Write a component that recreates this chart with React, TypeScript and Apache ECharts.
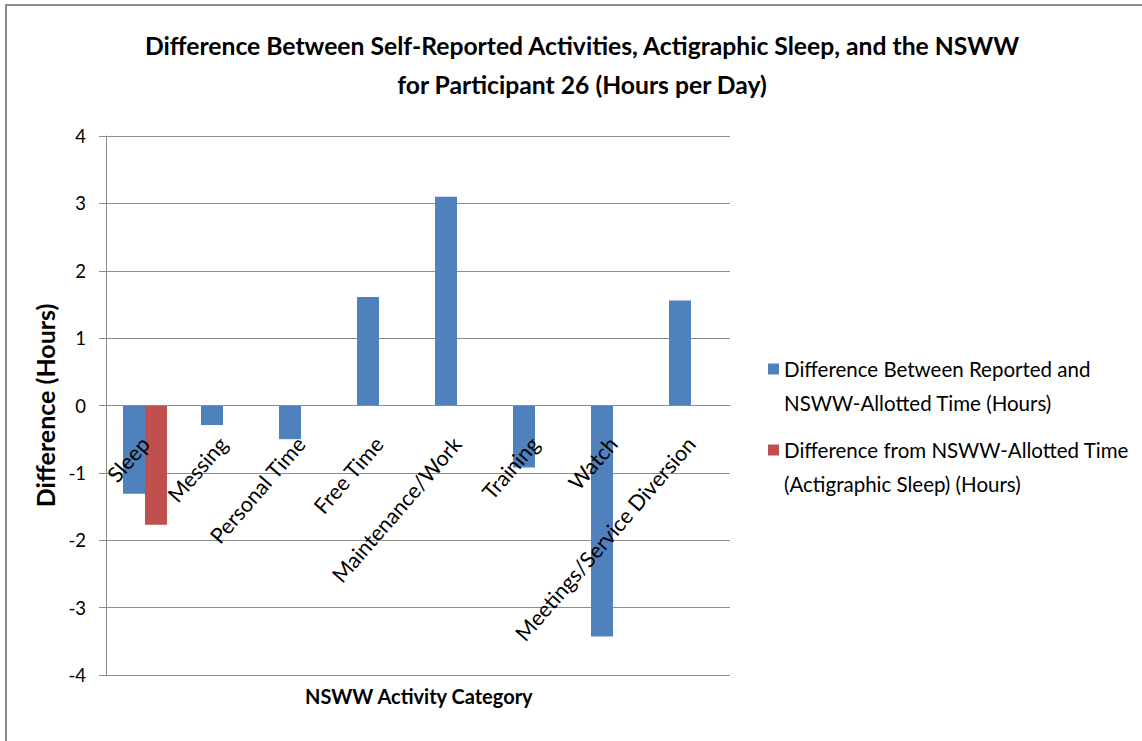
import React, { useEffect, useRef } from "react";
import * as echarts from "echarts";

const categories = [
  "Sleep",
  "Messing",
  "Personal Time",
  "Free Time",
  "Maintenance/Work",
  "Training",
  "Watch",
  "Meetings/Service Diversion",
];
const reportedDiff = [-1.31, -0.29, -0.5, 1.61, 3.1, -0.92, -3.43, 1.56];
const actigraphicDiff = [-1.77, null, null, null, null, null, null, null];
const seriesNames = [
  "Difference Between Reported and NSWW-Allotted Time (Hours)",
  "Difference from NSWW-Allotted Time (Actigraphic Sleep) (Hours)",
];
const legendLines: Record<string, string> = {
  [seriesNames[0]]: "\nDifference Between Reported and\nNSWW-Allotted Time (Hours)",
  [seriesNames[1]]: "\nDifference from NSWW-Allotted Time\n(Actigraphic Sleep) (Hours)",
};
const titleText =
  "Difference Between Self-Reported Activities, Actigraphic Sleep, and the NSWW\nfor Participant 26 (Hours per Day)";
const yAxisName = "Difference (Hours)";
const xAxisName = "NSWW Activity Category";

const FONT = "Lato, 'Open Sans', sans-serif";

export default function App() {
  const ref = useRef<HTMLDivElement>(null);
  useEffect(() => {
    if (!ref.current) return;
    const chart = echarts.init(ref.current, undefined, { renderer: "svg" });
    chart.setOption({
      animation: false,
      backgroundColor: "#ffffff",
      textStyle: { fontFamily: FONT },
      title: {
        text: titleText,
        left: 577,
        textAlign: "center",
        top: 21,
        textStyle: {
          fontFamily: FONT,
          fontSize: 24.7,
          fontWeight: "bold",
          color: "#000",
          lineHeight: 39,
        },
      },
      legend: {
        orient: "vertical",
        left: 763,
        top: 313,
        itemWidth: 11,
        itemHeight: 11,
        itemGap: -21,
        icon: "rect",
        formatter: (name: string) => legendLines[name] || name,
        textStyle: {
          fontFamily: FONT,
          fontSize: 20.5,
          color: "#000",
          lineHeight: 34,
        },
        data: seriesNames,
      },
      grid: { left: 106, right: 412, top: 136, bottom: 66, outerBoundsMode: "none" },
      xAxis: {
        type: "category",
        data: categories,
        z: 10,
        axisLine: { show: true, onZero: true, lineStyle: { color: "#8c8c8c", width: 1 } },
        axisTick: { show: false },
        axisLabel: {
          interval: 0,
          rotate: 49,
          margin: -235,
          padding: [40, 0, 0, 0],
          fontSize: 21.5,
          color: "#000",
          fontFamily: FONT,
        },
      },
      yAxis: {
        type: "value",
        min: -4,
        max: 4,
        interval: 1,
        name: yAxisName,
        nameLocation: "middle",
        nameGap: 46,
        nameTextStyle: { fontFamily: FONT, fontSize: 25, fontWeight: "bold", color: "#000" },
        axisLine: { show: true, lineStyle: { color: "#8c8c8c", width: 1 } },
        axisTick: { show: true, length: 7, lineStyle: { color: "#8c8c8c" } },
        axisLabel: { fontSize: 18.5, color: "#000", margin: 20, fontFamily: FONT },
        splitLine: { show: true, lineStyle: { color: "#8c8c8c", width: 1 } },
      },
      series: [
        {
          name: seriesNames[0],
          type: "bar",
          data: reportedDiff,
          barWidth: 22,
          barGap: "0%",
          itemStyle: { color: "#4F81BD" },
        },
        {
          name: seriesNames[1],
          type: "bar",
          data: actigraphicDiff,
          barWidth: 22,
          barGap: "0%",
          itemStyle: { color: "#C0504D" },
        },
      ],
      graphic: [
        {
          type: "polyline",
          shape: { points: [[6, 760], [6, 5], [1160, 5]] },
          style: { stroke: "#8c8c8c", lineWidth: 2, fill: null },
          silent: true,
        },
        {
          type: "text",
          left: 305,
          top: 686,
          style: {
            text: xAxisName,
            fontFamily: FONT,
            fontSize: 20,
            fontWeight: "bold",
            fill: "#000",
          },
        },
      ],
    });
    return () => chart.dispose();
  }, []);
  return (
    <div
      ref={ref}
      style={{ position: "fixed", left: 0, top: 0, width: 1142, height: 741 }}
    />
  );
}
